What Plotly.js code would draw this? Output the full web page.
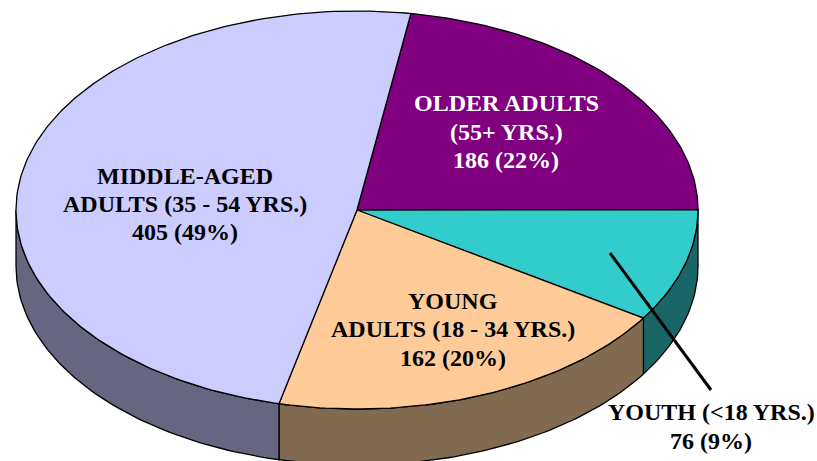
<!DOCTYPE html>
<html>
<head>
<meta charset="utf-8">
<script src="https://cdn.plot.ly/plotly-3.0.1.min.js"></script>
<style>html,body{margin:0;padding:0;background:#fff}#c{width:817px;height:461px}</style>
</head>
<body>
<div id="c"></div>
<script>
const categories = ['OLDER ADULTS (55+ YRS.)','YOUTH (<18 YRS.)','YOUNG ADULTS (18 - 34 YRS.)','MIDDLE-AGED ADULTS (35 - 54 YRS.)'];
const values = [186, 76, 162, 405];
const topColors = ['#800080','#33CCCC','#FFCC99','#CCCCFF'];
const sideColors = ['#400040','#1A6666','#806A50','#666680'];
const startAngle = 9.1;
const cx = 357, cy = 210, rx = 341, ry = 199, depth = 56;
const total = values.reduce((a,b)=>a+b,0);
const F = 'Liberation Serif, Times New Roman, serif';

function pt(deg, dy){
  const a = deg*Math.PI/180;
  return [cx + rx*Math.sin(a), cy - ry*Math.cos(a) + (dy||0)];
}
function arc(a0, a1, dy){
  const out = [];
  const n = Math.max(2, Math.ceil(Math.abs(a1-a0)));
  for(let i=0;i<=n;i++) out.push(pt(a0+(a1-a0)*i/n, dy));
  return out;
}
function poly(points, fill){
  return {type:'scatter', mode:'lines', x:points.map(p=>p[0]), y:points.map(p=>p[1]),
    fill:'toself', fillcolor:fill, line:{color:'#000', width:1.3}, hoverinfo:'skip', showlegend:false};
}

const sideTraces = [], topTraces = [];
let cur = startAngle;
values.forEach((v,i)=>{
  const a0 = cur, a1 = cur + v/total*360;
  cur = a1;
  topTraces.push(poly([[cx,cy]].concat(arc(a0,a1,0)).concat([[cx,cy]]), topColors[i]));
  const s0 = Math.max(a0,90), s1 = Math.min(a1,270);
  if(s1 > s0){
    sideTraces.push(poly(arc(s0,s1,0).concat(arc(s1,s0,depth)).concat([pt(s0,0)]), sideColors[i]));
  }
});

const leader = {type:'scatter', mode:'lines', x:[610,711], y:[253,390],
  line:{color:'#000', width:3}, hoverinfo:'skip', showlegend:false};

function label(x,y,text,color){
  return {x:x, y:y, xref:'x', yref:'y', text:'<b>'+text+'</b>', showarrow:false, align:'center',
    font:{family:F, size:24, color:color}, xanchor:'center', yanchor:'middle'};
}
const annotations = [
  label(506,103,'OLDER ADULTS','#fff'),
  label(506,132,'(55+ YRS.)','#fff'),
  label(506,160,'186 (22%)','#fff'),
  label(185,176,'MIDDLE-AGED','#000'),
  label(185,204,'ADULTS (35 - 54 YRS.)','#000'),
  label(185,232,'405 (49%)','#000'),
  label(453,301,'YOUNG','#000'),
  label(453,329,'ADULTS (18 - 34 YRS.)','#000'),
  label(453,358,'162 (20%)','#000'),
  label(711,412,'YOUTH (&lt;18 YRS.)','#000'),
  label(711,441,'76 (9%)','#000')
];

Plotly.newPlot('c', sideTraces.concat(topTraces).concat([leader]), {
  width:817, height:461, margin:{l:0,r:0,t:0,b:0},
  paper_bgcolor:'#fff', plot_bgcolor:'#fff', showlegend:false,
  xaxis:{range:[0,817], visible:false, fixedrange:true},
  yaxis:{range:[461,0], visible:false, fixedrange:true},
  annotations:annotations
}, {displayModeBar:false, staticPlot:true});
</script>
</body>
</html>
